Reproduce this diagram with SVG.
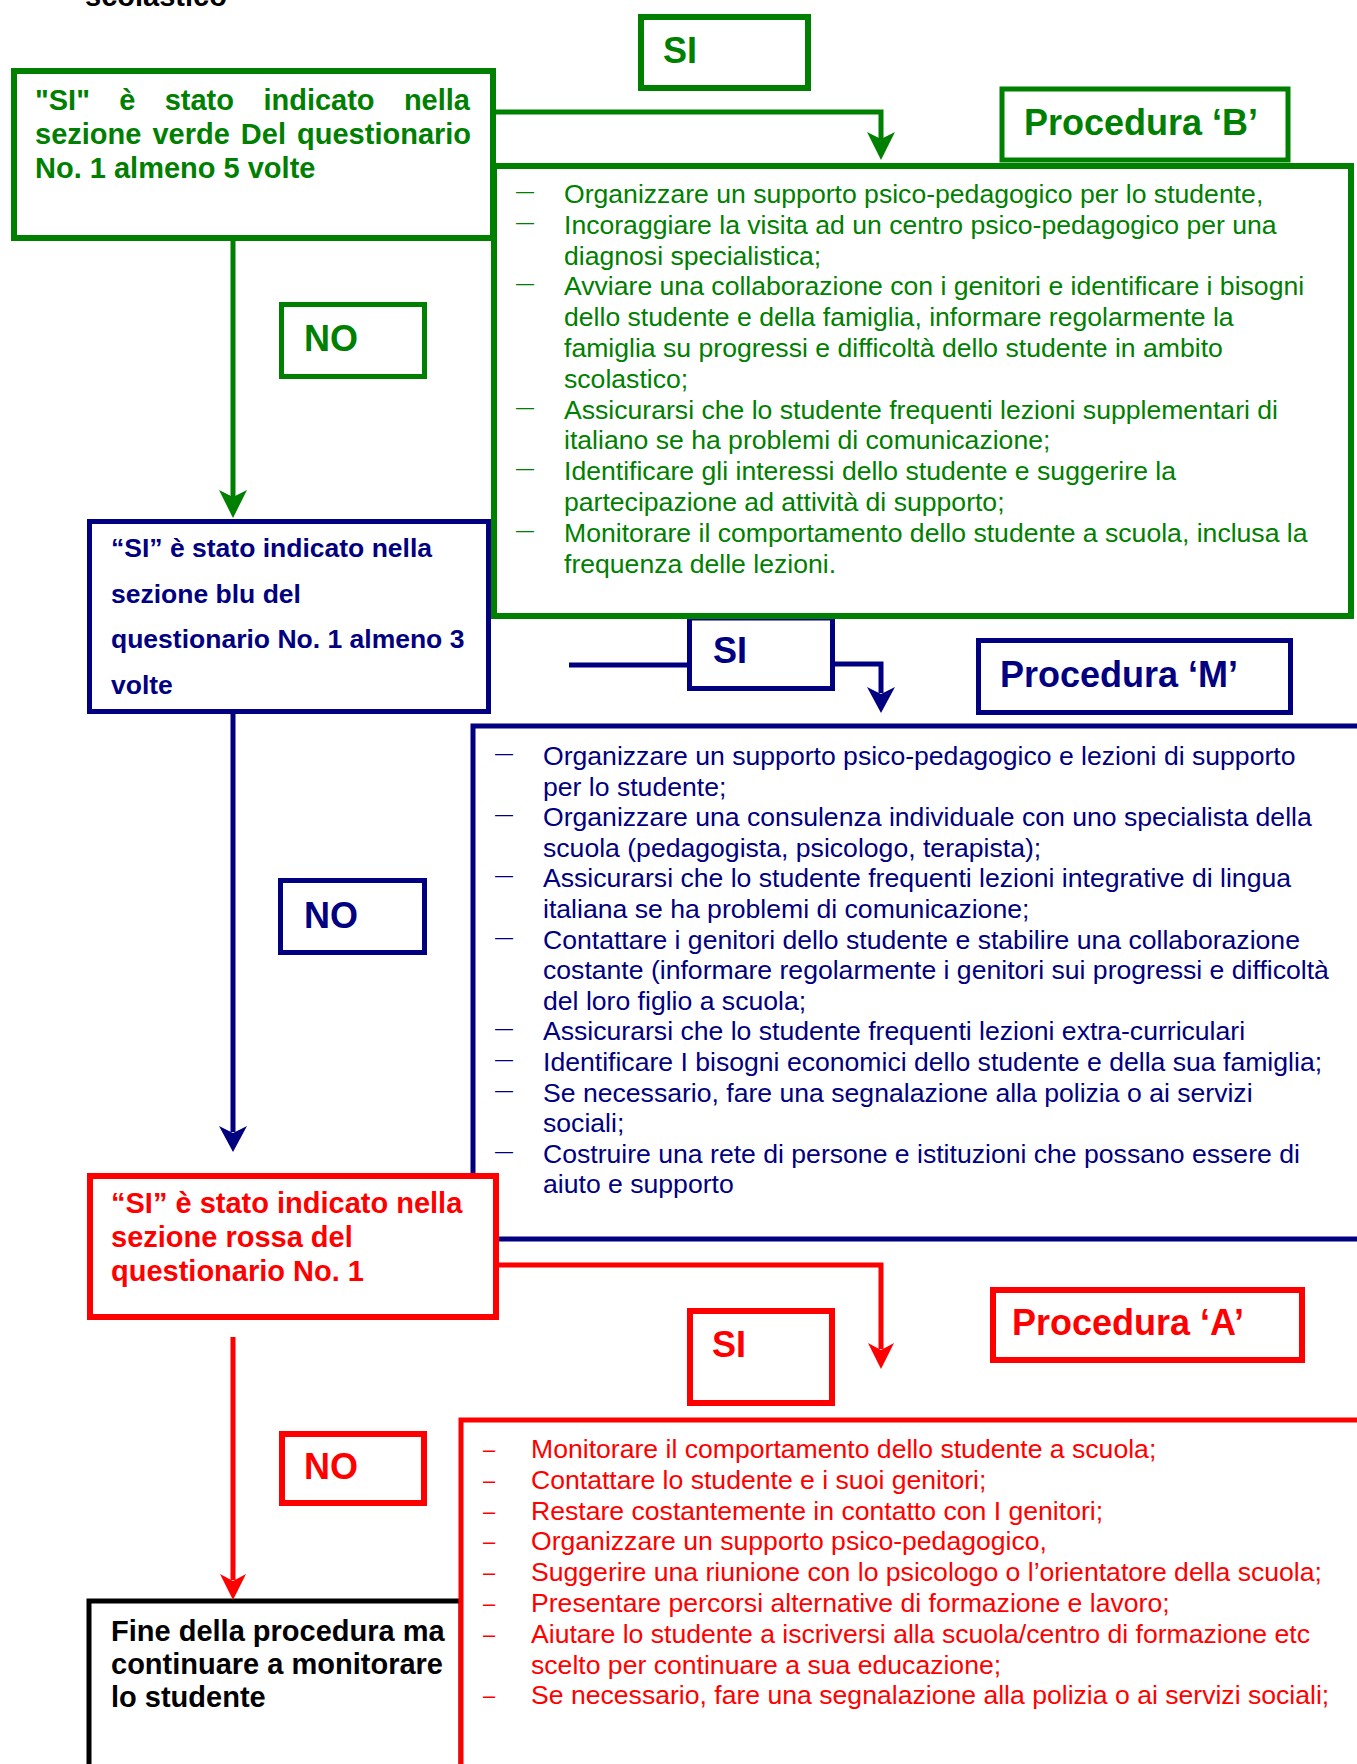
<svg xmlns="http://www.w3.org/2000/svg" width="1357" height="1764" viewBox="0 0 1357 1764">
<style>
text { font-family: "Liberation Sans", Arial, sans-serif; }
.bd { font-weight: bold; }
.t29 { font-size: 29px; }
.t26 { font-size: 26.5px; }
.lbl { font-size: 36px; font-weight: bold; }
.lst { font-size: 26.6px; }
.dm { font-size: 18px; }
.dr { font-size: 22px; }
.fg { fill: #008000; }
.fb { fill: #000080; }
.fr { fill: #FF0000; }
.fk { fill: #000000; }
.box { fill: #FFFFFF; }
.sg { stroke: #008000; }
.sb { stroke: #000080; }
.sr { stroke: #FF0000; }
.sk { stroke: #000000; }
.w6 { stroke-width: 6; }
.w5 { stroke-width: 5; }
.conn { fill: none; stroke-linejoin: miter; }
</style>
<defs>
<marker id="ag" viewBox="-30 -16 32 32" markerWidth="32" markerHeight="32" refX="-20" refY="0" orient="auto" markerUnits="userSpaceOnUse"><path d="M0,0 L-28,-14 L-21,0 L-28,14 Z" fill="#008000"/></marker>
<marker id="ab" viewBox="-30 -16 32 32" markerWidth="32" markerHeight="32" refX="-20" refY="0" orient="auto" markerUnits="userSpaceOnUse"><path d="M0,0 L-26,-14 L-19,0 L-26,14 Z" fill="#000080"/></marker>
<marker id="ar" viewBox="-30 -16 32 32" markerWidth="32" markerHeight="32" refX="-20" refY="0" orient="auto" markerUnits="userSpaceOnUse"><path d="M0,0 L-26,-13 L-19,0 L-26,13 Z" fill="#FF0000"/></marker>
</defs>
<rect width="1357" height="1764" fill="#FFFFFF"/>

<text class="bd t29 fk" x="85" y="6">scolastico</text>

<!-- Blue list box (drawn early, partly covered by red box) -->
<g id="list-m">
<rect class="box sb w5" x="473" y="726" width="900" height="513"/>
<g class="lst fb">
<text x="543" y="765">Organizzare un supporto psico-pedagogico e lezioni di supporto</text>
<text x="543" y="795.6">per lo studente;</text>
<text x="543" y="826.2">Organizzare una consulenza individuale con uno specialista della</text>
<text x="543" y="856.8">scuola (pedagogista, psicologo, terapista);</text>
<text x="543" y="887.4">Assicurarsi che lo studente frequenti lezioni integrative di lingua</text>
<text x="543" y="918">italiana se ha problemi di comunicazione;</text>
<text x="543" y="948.6">Contattare i genitori dello studente e stabilire una collaborazione</text>
<text x="543" y="979.2">costante (informare regolarmente i genitori sui progressi e difficoltà</text>
<text x="543" y="1009.8">del loro figlio a scuola;</text>
<text x="543" y="1040.4">Assicurarsi che lo studente frequenti lezioni extra-curriculari</text>
<text x="543" y="1071">Identificare I bisogni economici dello studente e della sua famiglia;</text>
<text x="543" y="1101.6">Se necessario, fare una segnalazione alla polizia o ai servizi</text>
<text x="543" y="1132.2">sociali;</text>
<text x="543" y="1162.8">Costruire una rete di persone e istituzioni che possano essere di</text>
<text x="543" y="1193.4">aiuto e supporto</text>
</g>
<g class="dm fb">
<text x="495" y="759">—</text>
<text x="495" y="820.2">—</text>
<text x="495" y="881.4">—</text>
<text x="495" y="942.6">—</text>
<text x="495" y="1034.4">—</text>
<text x="495" y="1065">—</text>
<text x="495" y="1095.6">—</text>
<text x="495" y="1156.8">—</text>
</g>
</g>

<!-- Black end box -->
<g id="end">
<rect class="box sk w5" x="89" y="1601" width="372" height="220"/>
<text class="bd t29 fk" x="111" y="1641">Fine della procedura ma</text>
<text class="bd t29 fk" x="111" y="1674">continuare a monitorare</text>
<text class="bd t29 fk" x="111" y="1707">lo studente</text>
</g>

<!-- Red list box -->
<g id="list-a">
<rect class="box sr w5" x="461" y="1420" width="920" height="400"/>
<g class="lst fr">
<text x="531" y="1458">Monitorare il comportamento dello studente a scuola;</text>
<text x="531" y="1488.8">Contattare lo studente e i suoi genitori;</text>
<text x="531" y="1519.6">Restare costantemente in contatto con I genitori;</text>
<text x="531" y="1550.4">Organizzare un supporto psico-pedagogico,</text>
<text x="531" y="1581.2">Suggerire una riunione con lo psicologo o l’orientatore della scuola;</text>
<text x="531" y="1612">Presentare percorsi alternative di formazione e lavoro;</text>
<text x="531" y="1642.8">Aiutare lo studente a iscriversi alla scuola/centro di formazione etc</text>
<text x="531" y="1673.6">scelto per continuare a sua educazione;</text>
<text x="531" y="1704.4">Se necessario, fare una segnalazione alla polizia o ai servizi sociali;</text>
</g>
<g class="dr fr">
<text x="483" y="1457">–</text>
<text x="483" y="1487.8">–</text>
<text x="483" y="1518.6">–</text>
<text x="483" y="1549.4">–</text>
<text x="483" y="1580.2">–</text>
<text x="483" y="1611">–</text>
<text x="483" y="1641.8">–</text>
<text x="483" y="1703.4">–</text>
</g>
</g>

<!-- Blue decision box -->
<g id="q-blu">
<rect class="box sb w5" x="89.5" y="521.5" width="399" height="190"/>
<text class="bd t26 fb" x="111" y="557">“SI” è stato indicato nella</text>
<text class="bd t26 fb" x="111" y="603">sezione blu del</text>
<text class="bd t26 fb" x="111" y="648">questionario No. 1 almeno 3</text>
<text class="bd t26 fb" x="111" y="694">volte</text>
</g>

<!-- Red decision box -->
<g id="q-rossa">
<rect class="box sr w6" x="90" y="1176" width="406" height="141"/>
<text class="bd t29 fr" x="111" y="1213">“SI” è stato indicato nella</text>
<text class="bd t29 fr" x="111" y="1247">sezione rossa del</text>
<text class="bd t29 fr" x="111" y="1281">questionario No. 1</text>
</g>

<!-- Blue SI label -->
<g id="si-m">
<rect class="box sb w5" x="689.5" y="618" width="143" height="70.5"/>
<text class="lbl fb" x="713" y="663">SI</text>
</g>

<!-- Green decision box -->
<g id="q-verde">
<rect class="box sg w6" x="14" y="71" width="479" height="167"/>
<text class="bd t29 fg" y="110"><tspan x="35">"SI"</tspan><tspan x="119.3">è</tspan><tspan x="164.7">stato</tspan><tspan x="263.4">indicato</tspan><tspan x="403.9">nella</tspan></text>
<text class="bd t29 fg" x="35" y="144" word-spacing="3">sezione verde Del questionario</text>
<text class="bd t29 fg" x="35" y="178">No. 1 almeno 5 volte</text>
</g>

<!-- Green list box -->
<g id="list-b">
<rect class="box sg w6" x="494" y="166" width="857" height="450"/>
<g class="lst fg">
<text x="564" y="203">Organizzare un supporto psico-pedagogico per lo studente,</text>
<text x="564" y="233.8">Incoraggiare la visita ad un centro psico-pedagogico per una</text>
<text x="564" y="264.6">diagnosi specialistica;</text>
<text x="564" y="295.4">Avviare una collaborazione con i genitori e identificare i bisogni</text>
<text x="564" y="326.2">dello studente e della famiglia, informare regolarmente la</text>
<text x="564" y="357">famiglia su progressi e difficoltà dello studente in ambito</text>
<text x="564" y="387.8">scolastico;</text>
<text x="564" y="418.6">Assicurarsi che lo studente frequenti lezioni supplementari di</text>
<text x="564" y="449.4">italiano se ha problemi di comunicazione;</text>
<text x="564" y="480.2">Identificare gli interessi dello studente e suggerire la</text>
<text x="564" y="511">partecipazione ad attività di supporto;</text>
<text x="564" y="541.8">Monitorare il comportamento dello studente a scuola, inclusa la</text>
<text x="564" y="572.6">frequenza delle lezioni.</text>
</g>
<g class="dm fg">
<text x="516" y="197">—</text>
<text x="516" y="227.8">—</text>
<text x="516" y="289.4">—</text>
<text x="516" y="412.6">—</text>
<text x="516" y="474.2">—</text>
<text x="516" y="535.8">—</text>
</g>
</g>

<!-- Labels -->
<g id="si-b">
<rect class="box sg w6" x="641" y="17" width="167" height="71"/>
<text class="lbl fg" x="663" y="63">SI</text>
</g>
<g id="proc-b">
<rect class="box sg w5" x="1002" y="89" width="286" height="71"/>
<text class="lbl fg" x="1024" y="135">Procedura ‘B’</text>
</g>
<g id="no-verde">
<rect class="box sg w5" x="281.5" y="304.5" width="143" height="72"/>
<text class="lbl fg" x="304" y="351">NO</text>
</g>
<g id="proc-m">
<rect class="box sb w5" x="978.5" y="640.5" width="312" height="72"/>
<text class="lbl fb" x="1000" y="687">Procedura ‘M’</text>
</g>
<g id="no-blu">
<rect class="box sb w5" x="280.5" y="880.5" width="144" height="72"/>
<text class="lbl fb" x="304" y="928">NO</text>
</g>
<g id="si-a">
<rect class="box sr w6" x="690" y="1311" width="142" height="92"/>
<text class="lbl fr" x="712" y="1357">SI</text>
</g>
<g id="proc-a">
<rect class="box sr w6" x="993" y="1290" width="309" height="70"/>
<text class="lbl fr" x="1012" y="1335">Procedura ‘A’</text>
</g>
<g id="no-rossa">
<rect class="box sr w6" x="282" y="1434" width="142" height="69"/>
<text class="lbl fr" x="304" y="1479">NO</text>
</g>

<!-- Connectors -->
<g id="connectors" class="conn">
<path class="sg w5" d="M496,112 H881 V140" marker-end="url(#ag)"/>
<path class="sg w5" d="M233,241 V498" marker-end="url(#ag)"/>
<path class="sb w5" d="M233,714 V1132" marker-end="url(#ab)"/>
<path class="sb w5" d="M569,665 H688"/>
<path class="sb w5" d="M834,664 H881 V693" marker-end="url(#ab)"/>
<path class="sr w5" d="M499,1265 H881 V1349" marker-end="url(#ar)"/>
<path class="sr w5" d="M233,1337 V1580" marker-end="url(#ar)"/>
</g>
</svg>
